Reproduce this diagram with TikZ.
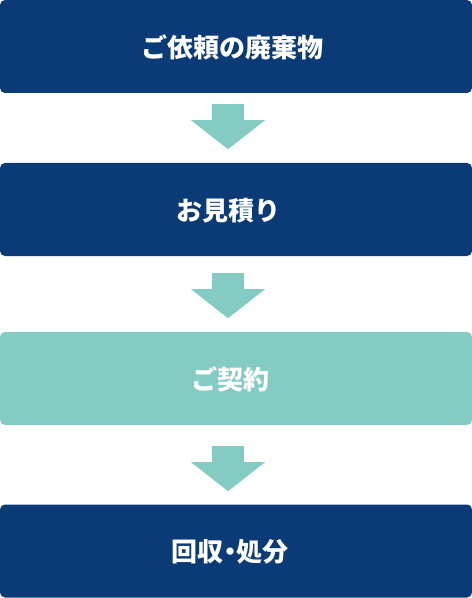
\documentclass[tikz,border=0pt]{standalone}
\usepackage{fontspec}
\newfontfamily\jpfont{Noto Sans CJK JP}
\usetikzlibrary{calc}
\definecolor{navy}{HTML}{0A3B76}
\definecolor{teal}{HTML}{84CBC4}

\begin{document}
\begin{tikzpicture}[x=1bp,y=-1bp,
    stepbox/.style={fill=navy, rounded corners=5bp, minimum width=472bp,
        minimum height=93bp, inner sep=0pt},
    steplabel/.style={text=white, inner sep=0pt,
        font=\jpfont\bfseries\fontsize{26bp}{26bp}\selectfont},
    flowarrow/.style={fill=teal}]
    \useasboundingbox (0,0) rectangle (472,598);
    % Etapas
    \node[stepbox] (waste) at (236,46.5) {};
    \node[stepbox] (quote) at (236,209.5) {};
    \node[stepbox, fill=teal] (contract) at (236,378.5) {};
    \node[stepbox] (collect) at (236,551) {};
    % Textos das etapas
    \node[steplabel] (wastetext) at ($(waste.center)+(-4,1)$) {ご依頼の廃棄物};
    \node[steplabel] (quotetext) at ($(quote.center)+(-8,1)$) {お見積り};
    \node[steplabel] (contracttext) at ($(contract.center)+(-6,1)$) {ご契約};
    \node[steplabel] (collecttext) at ($(collect.center)+(-6,1)$)
        {回収{\addfontfeature{RawFeature=+palt}・}処分};
    % Setas
    \foreach \src/\dy in {waste/11, quote/17, contract/21}
        \fill[flowarrow] ($(\src.south)+(-24,\dy)$) -- ++(32,0) -- ++(0,16)
            -- ++(21,0) -- ++(-37,29) -- ++(-37,-29) -- ++(21,0) -- cycle;
\end{tikzpicture}
\end{document}
